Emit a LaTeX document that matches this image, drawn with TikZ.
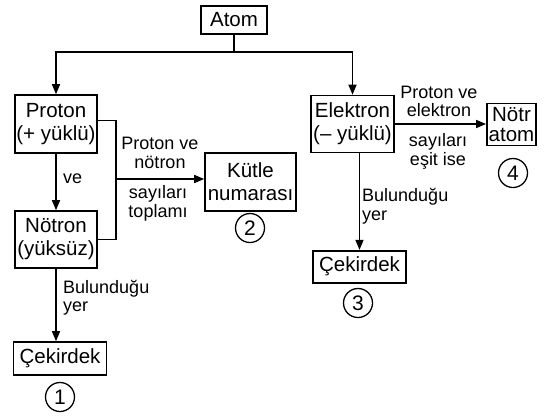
\documentclass[tikz,border=0pt]{standalone}
\usepackage{fontspec}
\setmainfont{Liberation Sans}
\usetikzlibrary{arrows.meta}
\begin{document}
\begin{tikzpicture}[x=1pt,y=-1pt,
  box/.style={draw, line width=1.6pt, inner sep=0pt, align=center, font=\fontsize{20.5}{23}\selectfont},
  lbl/.style={inner sep=0pt, align=center, font=\fontsize{18}{18.5}\selectfont},
  num/.style={draw, circle, line width=1.3pt, inner sep=0pt, minimum size=29pt, font=\fontsize{21}{23}\selectfont},
  conn/.style={line width=1.4pt},
  arr/.style={conn, -{Triangle[length=10pt,width=8pt]}},
]
\useasboundingbox (0,0) rectangle (551,418);
% boxes
\node[box, minimum width=66pt, minimum height=28pt] (atom) at (234,20) {Atom};
\node[box, minimum width=82pt, minimum height=58pt] (proton) at (56,124) {Proton\\(+ yüklü)};
\node[box, minimum width=82pt, minimum height=57pt] (notron) at (56,239.5) {Nötron\\(yüksüz)};
\node[box, minimum width=91pt, minimum height=58pt] (kutle) at (250.5,182) {Kütle\\numarası};
\node[box, minimum width=93pt, minimum height=33pt] (cek1) at (60,358.5) {Çekirdek};
\node[box, minimum width=83pt, minimum height=57pt] (elek) at (352.5,124) {Elektron\\(– yüklü)};
\node[box, minimum width=49pt, minimum height=42pt, line width=1.8pt, font=\fontsize{20.5}{20.5}\selectfont] (notr) at (511.5,124.5) {Nötr\\atom};
\node[box, minimum width=93pt, minimum height=32pt] (cek2) at (359.5,266.7) {Çekirdek};
% numbers
\node[num] (n1) at (60,397) {1};
\node[num] (n2) at (250,228) {2};
\node[num] (n3) at (358,303) {3};
\node[num] (n4) at (513,173) {4};
% connectors
\coordinate (split) at (234,52);
\draw[conn] (atom.south) -- (split);
\draw[arr] (split) -| (proton.north);
\draw[arr] (split) -| (elek.north);
\draw[arr] (proton.south) -- (notron.north);
\coordinate (br) at (116,179);
\draw[conn] ([yshift=3.3pt]proton.east) -| (br) |- (notron.east);
\draw[arr] (br) -- (br -| kutle.west);
\draw[arr] (notron.south) -- (notron.south |- cek1.north);
\draw[arr] (elek.east) -- (elek.east -| notr.west);
\draw[arr] (cek2.north |- elek.south) -- (cek2.north);
% labels (anchor=base is the last line's baseline)
\node[lbl, anchor=base] (l1) at (160,168) {Proton ve\\nötron};
\node[lbl, anchor=base] (l2) at (158,217) {sayıları\\toplamı};
\node[lbl, anchor=base west] (l3) at (63,183) {ve};
\node[lbl, anchor=base west, align=left] (l4) at (63,311.5) {Bulunduğu\\yer};
\node[lbl, anchor=base] (l5) at (439,116.5) {Proton ve\\elektron};
\node[lbl, anchor=base] (l6) at (438,165) {sayıları\\eşit ise};
\node[lbl, anchor=base west, align=left] (l7) at (362,220) {Bulunduğu\\yer};
\end{tikzpicture}
\end{document}
